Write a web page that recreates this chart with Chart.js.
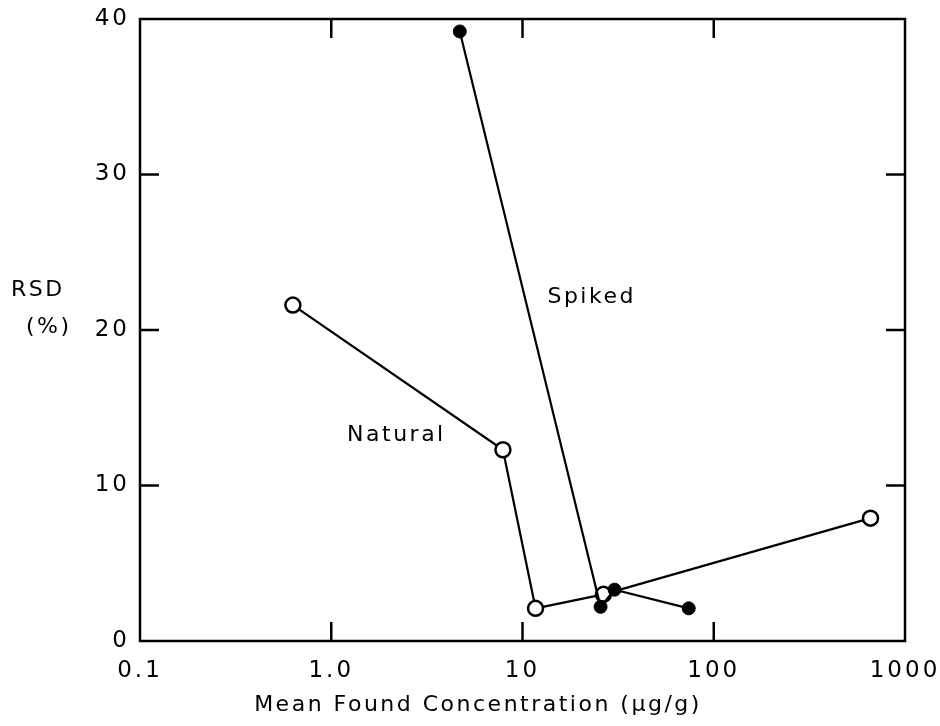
<!DOCTYPE html>
<html>
<head>
<meta charset="utf-8">
<script src="https://cdn.jsdelivr.net/npm/chart.js"></script>
<style>
    html, body { margin: 0; padding: 0; background: #fff; }
    #wrap { width: 940px; height: 726px; }
</style>
</head>
<body>
<div id="wrap"><canvas id="plot" width="940" height="726"></canvas></div>
<script>
// values
const naturalConc = [0.63, 7.9, 11.7, 26.5, 660];
const naturalRsd = [21.6, 12.3, 2.1, 3.0, 7.9];

const spikedConc = [4.7, 25.6, 30.3, 74];
const spikedRsd = [39.2, 2.2, 3.3, 2.1];

const xTicks = [0.1, 1, 10, 100, 1000];
const xTickLabels = ["0.1", "1.0", "10", "100", "1000"];
const yTicks = [0, 10, 20, 30, 40];

const notes = [
    { text: "Spiked", x: 13.5, y: 22.1 },
    { text: "Natural", x: 1.21, y: 13.2 },
];

const FONT = '"DejaVu Sans", sans-serif';

const toPoints = (xs, ys) => xs.map((x, i) => ({ x: x, y: ys[i] }));

// frame, inward ticks on all four sides, annotations and axis titles
const decor = {
    id: "decor",
    beforeDraw: (chart) => {
        chart.ctx.letterSpacing = "3px";
    },
    afterDatasetsDraw: (chart) => {
        const ctx = chart.ctx;
        const a = chart.chartArea;
        const xs = chart.scales.x;
        const ys = chart.scales.y;
        const len = 19;
        ctx.save();
        ctx.strokeStyle = "#000";
        ctx.lineWidth = 2.5;
        ctx.strokeRect(a.left, a.top, a.right - a.left, a.bottom - a.top);
        ctx.beginPath();
        for (const v of xTicks.slice(1, -1)) {
            const px = xs.getPixelForValue(v);
            ctx.moveTo(px, a.bottom); ctx.lineTo(px, a.bottom - len);
            ctx.moveTo(px, a.top); ctx.lineTo(px, a.top + len);
        }
        for (const v of yTicks.slice(1, -1)) {
            const py = ys.getPixelForValue(v);
            ctx.moveTo(a.left, py); ctx.lineTo(a.left + len, py);
            ctx.moveTo(a.right, py); ctx.lineTo(a.right - len, py);
        }
        ctx.stroke();

        ctx.fillStyle = "#000";
        ctx.letterSpacing = "2.5px";
        ctx.font = "22px " + FONT;
        ctx.textBaseline = "middle";
        ctx.textAlign = "left";
        for (const n of notes) {
            ctx.fillText(n.text, xs.getPixelForValue(n.x), ys.getPixelForValue(n.y));
        }
        ctx.fillText("RSD", 11, 290);
        ctx.fillText("(%)", 26, 327);
        ctx.textAlign = "center";
        ctx.fillText("Mean Found Concentration (\u03bcg/g)", 478, 705);
        ctx.restore();
    }
};

new Chart(document.getElementById("plot"), {
    type: "scatter",
    data: {
        datasets: [
            {
                label: "Spiked",
                data: toPoints(spikedConc, spikedRsd),
                showLine: true,
                borderColor: "#000",
                borderWidth: 2.2,
                pointRadius: 6.5,
                pointBackgroundColor: "#000",
                pointBorderColor: "#000",
                pointBorderWidth: 1,
            },
            {
                label: "Natural",
                data: toPoints(naturalConc, naturalRsd),
                showLine: true,
                borderColor: "#000",
                borderWidth: 2.2,
                pointRadius: 7.5,
                pointBackgroundColor: "#fff",
                pointBorderColor: "#000",
                pointBorderWidth: 2.5,
            },
        ]
    },
    options: {
        responsive: false,
        animation: false,
        layout: { padding: { top: 19, right: 35, left: 0, bottom: 0 } },
        plugins: {
            legend: { display: false },
            tooltip: { enabled: false },
        },
        scales: {
            x: {
                type: "logarithmic",
                min: 0.1,
                max: 1000,
                afterBuildTicks: (scale) => {
                    scale.ticks = xTicks.map(v => ({ value: v }));
                },
                afterFit: (scale) => {
                    scale.height = 85;
                    scale.paddingLeft = 0;
                    scale.paddingRight = 0;
                },
                ticks: {
                    color: "#000",
                    font: { family: FONT, size: 23 },
                    padding: 8,
                    maxRotation: 0,
                    autoSkip: false,
                    callback: (v) => {
                        const i = xTicks.indexOf(v);
                        return i >= 0 ? xTickLabels[i] : "";
                    },
                },
                grid: { display: false },
                border: { display: false },
            },
            y: {
                min: 0,
                max: 40,
                afterBuildTicks: (scale) => {
                    scale.ticks = yTicks.map(v => ({ value: v }));
                },
                afterFit: (scale) => {
                    scale.width = 140;
                    scale.paddingTop = 0;
                    scale.paddingBottom = 0;
                },
                ticks: {
                    color: "#000",
                    font: { family: FONT, size: 23 },
                    padding: 2,
                },
                grid: { display: false },
                border: { display: false },
            }
        }
    },
    plugins: [decor]
});
</script>
</body>
</html>
